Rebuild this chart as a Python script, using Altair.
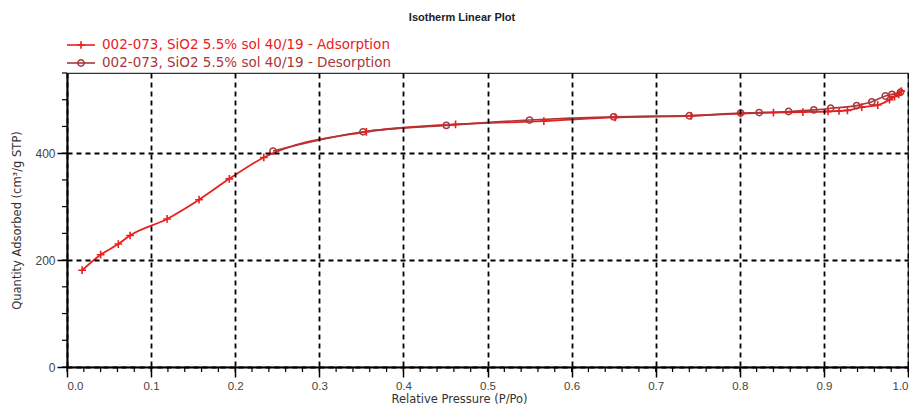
import altair as alt
import pandas as pd

# Adsorption branch (relative pressure, quantity adsorbed)
ads_p = [0.018, 0.040, 0.061, 0.075, 0.119, 0.157, 0.193, 0.234, 0.356, 0.462,
         0.567, 0.652, 0.742, 0.801, 0.840, 0.875, 0.905, 0.918, 0.928, 0.945,
         0.964, 0.978, 0.984, 0.989, 0.992]
ads_q = [181, 210, 230, 246, 277, 313, 352, 392, 440, 454,
         460, 467, 470, 474, 476, 477, 478, 479, 480, 486,
         490, 500, 506, 510, 516]

# Desorption branch
des_p = [0.991, 0.981, 0.973, 0.957, 0.939, 0.908, 0.888, 0.858, 0.823, 0.801,
         0.740, 0.650, 0.550, 0.451, 0.352, 0.245]
des_q = [514, 510, 507, 496, 489, 484, 481, 478, 476, 475,
         470, 468, 462, 452, 440, 404]

series_names = ["002-073, SiO2 5.5% sol 40/19 - Adsorption",
                "002-073, SiO2 5.5% sol 40/19 - Desorption"]
title_text = "Isotherm Linear Plot"
x_title = "Relative Pressure (P/Po)"
y_title = "Quantity Adsorbed (cm\u00b3/g STP)"
x_major = [round(i * 0.1, 1) for i in range(11)]
x_minor = [round(i * 0.02, 2) for i in range(51)]
y_major = [0, 200, 400]
y_minor = list(range(0, 551, 50))

ADS = "#e8211f"
DES = "#a8383a"
FONT = "Liberation Sans"
WFONT = "DejaVu Sans"
W, H = 841, 294

ads = pd.DataFrame({"p": ads_p, "q": ads_q, "i": range(len(ads_p))})
des = pd.DataFrame({"p": des_p, "q": des_q, "i": range(len(des_p))})
xm = pd.DataFrame({"p": x_minor})
ym = pd.DataFrame({"q": y_minor})

xs = alt.Scale(domain=[0, 1.0], nice=False, zero=False)
ys = alt.Scale(domain=[0, 550], nice=False)

axis_common = dict(labelFont=FONT, labelColor="#444",
                   titleFont=WFONT, titleFontSize=11.5, titleColor="#333",
                   titleFontWeight="normal", domainColor="black", domainWidth=2,
                   tickColor="black", tickWidth=1.5, gridColor="black",
                   gridDash=[5, 4], gridWidth=1.8, gridOpacity=1, zindex=1)

x_axis = alt.Axis(values=x_major, format=".1f", tickSize=10, labelPadding=3,
                  labelFontSize=11.5, grid=True, title=x_title, titleX=392, titleY=32,
                  titleBaseline="middle", titleAnchor="start", titleAlign="center",
                  orient="bottom", **axis_common)
y_axis = alt.Axis(values=y_major, tickSize=10, labelPadding=2, labelFontSize=12, grid=True,
                  title=y_title, titleX=-50, titleY=147, titleBaseline="middle",
                  titleAlign="center", titleAnchor="start", orient="left", **axis_common)

X = alt.X("p:Q", scale=xs, axis=x_axis)
Y = alt.Y("q:Q", scale=ys, axis=y_axis)

plus_path = "M0,-1L0,1M-1,0L1,0"

des_line = alt.Chart(des).mark_line(color=DES, strokeWidth=1.6, interpolate="monotone").encode(
    x=X, y=Y, order="i:Q")
ads_line = alt.Chart(ads).mark_line(color=ADS, strokeWidth=1.8, interpolate="monotone").encode(
    x=X, y=Y, order="i:Q")
des_pts = alt.Chart(des).mark_point(shape="circle", filled=False, color=DES, size=40,
                                    strokeWidth=1.5, opacity=1).encode(x=X, y=Y)
ads_pts = alt.Chart(ads).mark_point(shape=plus_path, filled=False, color=ADS, size=60,
                                    strokeWidth=1.6, opacity=1).encode(x=X, y=Y)

# minor ticks
x_minor_ticks = alt.Chart(xm).mark_rule(color="black", strokeWidth=1.2).encode(
    x=X, y=alt.value(H), y2=alt.value(H + 5))
y_minor_ticks = alt.Chart(ym).mark_rule(color="black", strokeWidth=1.2).encode(
    y=Y, x=alt.value(0), x2=alt.value(-5))

one = pd.DataFrame({"a": [0]})
base = alt.Chart(one)

title_mark = base.mark_text(text=title_text, font=FONT, fontSize=11, fontWeight="bold",
                            color="#222", align="center", baseline="middle").encode(
    x=alt.value(395), y=alt.value(-55))

leg1_line = base.mark_rule(color=ADS, strokeWidth=1.6).encode(
    x=alt.value(0), x2=alt.value(28), y=alt.value(-28))
leg1_pt = base.mark_point(shape=plus_path, filled=False, color=ADS, size=60, strokeWidth=1.6,
                          opacity=1).encode(x=alt.value(14), y=alt.value(-28))
leg1_txt = base.mark_text(text=series_names[0], font=WFONT, fontSize=13.5, color=ADS,
                          align="left", baseline="middle").encode(
    x=alt.value(35), y=alt.value(-28))
leg2_line = base.mark_rule(color=DES, strokeWidth=1.6).encode(
    x=alt.value(0), x2=alt.value(28), y=alt.value(-10))
leg2_pt = base.mark_point(shape="circle", filled=False, color=DES, size=40, strokeWidth=1.5,
                          opacity=1).encode(x=alt.value(14), y=alt.value(-10))
leg2_txt = base.mark_text(text=series_names[1], font=WFONT, fontSize=13.5, color=DES,
                          align="left", baseline="middle").encode(
    x=alt.value(35), y=alt.value(-10))

chart = alt.layer(
    ads_line, des_line, des_pts, ads_pts, x_minor_ticks, y_minor_ticks,
    title_mark, leg1_line, leg1_pt, leg1_txt, leg2_line, leg2_pt, leg2_txt
).properties(
    width=W, height=H,
    autosize=alt.AutoSizeParams(type="none"),
    padding={"left": 59, "top": 65, "right": 1, "bottom": 37},
    background="white"
).configure_view(stroke="#333", strokeWidth=1.2)

chart.save("out.html", embed_options={"renderer": "svg", "actions": False})
